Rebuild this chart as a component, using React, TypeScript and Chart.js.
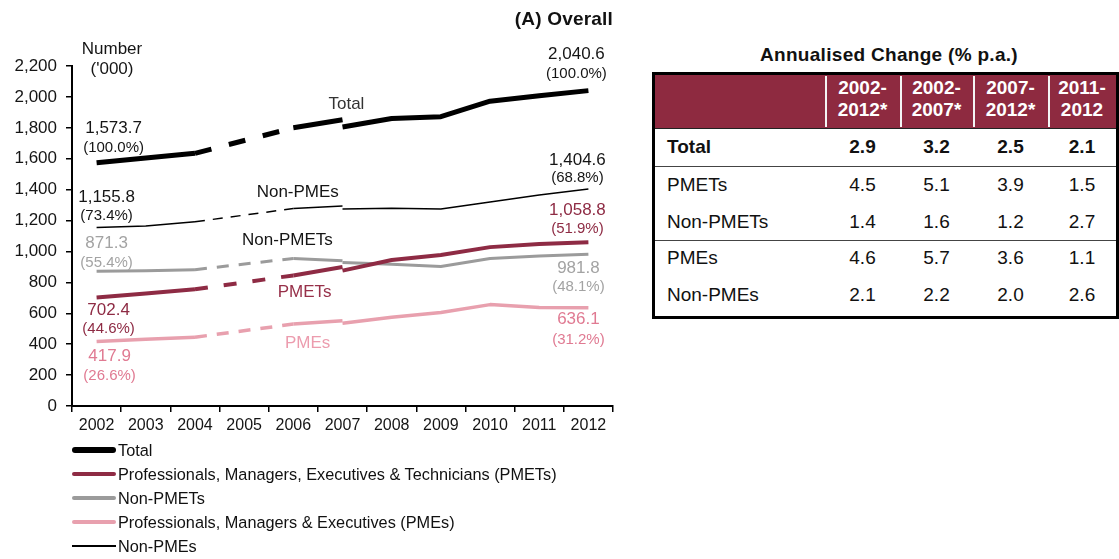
import React, { useEffect, useRef } from 'react';
import { Chart, registerables } from 'chart.js';

Chart.register(...registerables);

const FONT = '"Liberation Sans", Arial, Helvetica, sans-serif';

// ---- Data ----
const years = ['2002', '2003', '2004', '2005', '2006', '2007', '2008', '2009', '2010', '2011', '2012'];

// Old classification series (2002-2007); 2005 not available (dashed span)
const totalOld = [1573.7, 1605, 1635, null, 1800, 1852, null, null, null, null, null];
const totalNew = [null, null, null, null, null, 1805, 1860, 1872, 1972, 2008, 2040.6];

const pmetsOld = [702.4, 728, 755, null, 845, 900, null, null, null, null, null];
const pmetsNew = [null, null, null, null, null, 876, 945, 977, 1028, 1048, 1058.8];

const nonPmetsOld = [871.3, 875, 882, null, 955, 940, null, null, null, null, null];
const nonPmetsNew = [null, null, null, null, null, 928, 917, 902, 955, 970, 981.8];

const pmesOld = [417.9, 432, 445, null, 530, 552, null, null, null, null, null];
const pmesNew = [null, null, null, null, null, 535, 574, 605, 656, 638, 636.1];

const nonPmesOld = [1155.8, 1165, 1192, null, 1278, 1294, null, null, null, null, null];
const nonPmesNew = [null, null, null, null, null, 1275, 1280, 1275, 1320, 1365, 1404.6];

const yTicksMax = 2200;
const yTickStep = 200;

// Table data
const tablePeriods = [['2002-', '2012*'], ['2002-', '2007*'], ['2007-', '2012*'], ['2011-', '2012']];
const tableRows = ['Total', 'PMETs', 'Non-PMETs', 'PMEs', 'Non-PMEs'];
const change2002to2012 = [2.9, 4.5, 1.4, 4.6, 2.1];
const change2002to2007 = [3.2, 5.1, 1.6, 5.7, 2.2];
const change2007to2012 = [2.5, 3.9, 1.2, 3.6, 2.0];
const change2011to2012 = [2.1, 1.5, 2.7, 1.1, 2.6];
const tableColumns = [change2002to2012, change2002to2007, change2007to2012, change2011to2012];

// ---- Series styling / annotation placement ----
type Series = {
  name: string;
  legend: string;
  color: string;
  textColor: string;
  tagColor: string;
  width: number;
  dash: number[];
  oldValues: (number | null)[];
  newValues: (number | null)[];
  tag: { x: number; y: number };
  start: { dx: number; dy1: number; dy2: number };
  end: { dx: number; dy1: number; dy2: number };
};

const series: Series[] = [
  {
    name: 'Total', legend: 'Total', color: '#000000', textColor: '#151515', tagColor: '#333333',
    width: 5, dash: [17, 18], oldValues: totalOld, newValues: totalNew,
    tag: { x: 5.08, y: 1950 }, start: { dx: 17, dy1: -34, dy2: -15 }, end: { dx: -12, dy1: -36, dy2: -17 },
  },
  {
    name: 'PMETs', legend: 'Professionals, Managers, Executives & Technicians (PMETs)', color: '#8E2B44',
    textColor: '#8E2B44', tagColor: '#973049',
    width: 4, dash: [13, 16], oldValues: pmetsOld, newValues: pmetsNew,
    tag: { x: 4.23, y: 738 }, start: { dx: 12, dy1: 13, dy2: 31 }, end: { dx: -11, dy1: -32, dy2: -14 },
  },
  {
    name: 'Non-PMETs', legend: 'Non-PMETs', color: '#9B9B9B', textColor: '#A3A3A3', tagColor: '#151515',
    width: 3, dash: [12, 10], oldValues: nonPmetsOld, newValues: nonPmetsNew,
    tag: { x: 3.88, y: 1075 }, start: { dx: 10, dy1: -28, dy2: -8 }, end: { dx: -10, dy1: 14, dy2: 33 },
  },
  {
    name: 'PMEs', legend: 'Professionals, Managers & Executives (PMEs)', color: '#E8A0AE',
    textColor: '#E07A92', tagColor: '#EC9CAE',
    width: 3.5, dash: [12, 10], oldValues: pmesOld, newValues: pmesNew,
    tag: { x: 4.29, y: 408 }, start: { dx: 13, dy1: 15, dy2: 34 }, end: { dx: -10, dy1: 12, dy2: 32 },
  },
  {
    name: 'Non-PMEs', legend: 'Non-PMEs', color: '#000000', textColor: '#151515', tagColor: '#151515',
    width: 1.5, dash: [10, 8], oldValues: nonPmesOld, newValues: nonPmesNew,
    tag: { x: 4.09, y: 1380 }, start: { dx: 10, dy1: -30, dy2: -12 }, end: { dx: -11, dy1: -29, dy2: -11 },
  },
];

const fmtValue = (v: number) =>
  v.toLocaleString('en-US', { minimumFractionDigits: 1, maximumFractionDigits: 1 });

const firstOf = (arr: (number | null)[]) => arr.find((v) => v !== null) as number;
const lastOf = (arr: (number | null)[]) => {
  for (let i = arr.length - 1; i >= 0; i--) if (arr[i] !== null) return { v: arr[i] as number, i };
  return { v: 0, i: 0 };
};

const App = () => {
  const ref = useRef<HTMLCanvasElement>(null);

  useEffect(() => {
    const canvas = ref.current!;
    const datasets: any[] = [];
    series.forEach((s) => {
      [s.oldValues, s.newValues].forEach((vals, k) => {
        datasets.push({
          label: k ? s.name + ' (revised)' : s.name,
          data: vals,
          borderColor: s.color,
          backgroundColor: s.color,
          borderWidth: s.width,
          pointRadius: 0,
          pointHoverRadius: 0,
          tension: 0,
          spanGaps: true,
          borderJoinStyle: 'round',
          borderCapStyle: 'butt',
          segment: {
            // a segment that spans a missing year (no data) is drawn dashed
            borderDash: (ctx: any) =>
              vals[ctx.p0DataIndex] === null || vals[ctx.p1DataIndex] === null ? s.dash : undefined,
          },
        });
      });
    });

    const totalStart = firstOf(totalOld);
    const totalEnd = lastOf(totalNew).v;

    const labelPlugin = {
      id: 'seriesLabels',
      afterDatasetsDraw(chart: any) {
        const { ctx, chartArea } = chart;
        const xs = chart.scales.x;
        const ys = chart.scales.y;
        ctx.save();
        ctx.textAlign = 'center';
        ctx.textBaseline = 'middle';

        // unit label
        ctx.fillStyle = '#151515';
        ctx.font = `17px ${FONT}`;
        ctx.fillText('Number', chartArea.left + 40, chartArea.top - 17);
        ctx.fillText("('000)", chartArea.left + 40, chartArea.top + 3);

        series.forEach((s) => {
          const v0 = firstOf(s.oldValues);
          const last = lastOf(s.newValues);
          const x0 = xs.getPixelForValue(0);
          const y0 = ys.getPixelForValue(v0);
          const x1 = xs.getPixelForValue(last.i);
          const y1 = ys.getPixelForValue(last.v);
          ctx.fillStyle = s.textColor;
          ctx.font = `17px ${FONT}`;
          ctx.fillText(fmtValue(v0), x0 + s.start.dx, y0 + s.start.dy1);
          ctx.fillText(fmtValue(last.v), x1 + s.end.dx, y1 + s.end.dy1);
          ctx.font = `15px ${FONT}`;
          ctx.fillText(`(${((v0 / totalStart) * 100).toFixed(1)}%)`, x0 + s.start.dx, y0 + s.start.dy2);
          ctx.fillText(`(${((last.v / totalEnd) * 100).toFixed(1)}%)`, x1 + s.end.dx, y1 + s.end.dy2);

          ctx.fillStyle = s.tagColor;
          ctx.font = `17px ${FONT}`;
          ctx.fillText(s.name, xs.getPixelForValue(s.tag.x), ys.getPixelForValue(s.tag.y));
        });
        ctx.restore();
      },
    };

    const chart = new Chart(canvas, {
      type: 'line',
      data: { labels: years, datasets },
      options: {
        animation: false,
        responsive: false,
        devicePixelRatio: 1,
        events: [],
        layout: { padding: { left: 0, right: 27, top: 66, bottom: 0 } },
        plugins: {
          legend: { display: false },
          tooltip: { enabled: false },
          title: { display: false },
        },
        scales: {
          x: {
            type: 'category',
            offset: true,
            grid: {
              offset: true,
              drawOnChartArea: false,
              drawTicks: true,
              tickLength: 6,
              color: '#000',
              lineWidth: 1.5,
            },
            border: { display: true, color: '#000', width: 2 },
            ticks: {
              color: '#151515',
              font: { family: FONT, size: 16 },
              padding: 4,
              autoSkip: false,
              maxRotation: 0,
            },
            afterFit: (s: any) => {
              s.height = 34;
            },
          },
          y: {
            type: 'linear',
            min: 0,
            max: yTicksMax,
            grid: {
              drawOnChartArea: false,
              drawTicks: true,
              tickLength: 6,
              color: '#000',
              lineWidth: 1.5,
            },
            border: { display: true, color: '#000', width: 2 },
            ticks: {
              stepSize: yTickStep,
              color: '#151515',
              font: { family: FONT, size: 17 },
              padding: 9,
              callback: (v: any) => Number(v).toLocaleString('en-US'),
            },
            afterFit: (s: any) => {
              s.width = 72;
            },
          },
        },
      },
      plugins: [labelPlugin],
    } as any);
    return () => chart.destroy();
  }, []);

  const colBounds = [170, 245, 318, 393, 461];
  const rowCenters = [72, 110, 147, 183, 220];

  return (
    <div
      style={{
        position: 'fixed',
        left: 0,
        top: 0,
        width: 1119,
        height: 559,
        background: '#fff',
        fontFamily: FONT,
        color: '#111',
        overflow: 'hidden',
      }}
    >
      <canvas ref={ref} width={640} height={440} style={{ position: 'absolute', left: 0, top: 0, width: 640, height: 440 }} />

      {/* Chart title */}
      <div
        style={{
          position: 'absolute',
          left: 0,
          width: 613,
          top: 8,
          textAlign: 'right',
          fontWeight: 'bold',
          fontSize: 19,
          lineHeight: '22px',
          letterSpacing: 0.2,
        }}
      >
        (A) Overall
      </div>

      {/* Legend */}
      <div style={{ position: 'absolute', left: 72, top: 438 }}>
        {series.map((s) => (
          <div key={s.name} style={{ height: 24, display: 'flex', alignItems: 'center' }}>
            <div
              style={{
                width: 44,
                height: s.width < 2 ? 1.5 : s.width + 0.5,
                background: s.color,
                borderRadius: s.width < 2 ? 0 : 3,
              }}
            />
            <span style={{ marginLeft: 2, fontSize: 16.3, lineHeight: '20px', color: '#111', whiteSpace: 'nowrap' }}>
              {s.legend}
            </span>
          </div>
        ))}
      </div>

      {/* Table title */}
      <div
        style={{
          position: 'absolute',
          left: 889,
          top: 44,
          transform: 'translateX(-50%)',
          fontWeight: 'bold',
          fontSize: 19,
          lineHeight: '22px',
          whiteSpace: 'nowrap',
          letterSpacing: 0.3,
        }}
      >
        Annualised Change (% p.a.)
      </div>

      {/* Table */}
      <div
        style={{
          position: 'absolute',
          left: 652,
          top: 72,
          width: 467,
          height: 247,
          border: '3px solid #000',
          boxSizing: 'border-box',
          fontSize: 19,
        }}
      >
        <div
          style={{
            position: 'absolute',
            left: 0,
            top: 0,
            width: '100%',
            height: 53,
            background: '#8E2A40',
            borderBottom: '1px solid #222',
          }}
        />
        {colBounds.slice(0, 4).map((b, i) => (
          <React.Fragment key={'h' + i}>
            <div style={{ position: 'absolute', left: b, top: 1, width: 1.5, height: 51, background: '#f4f4f4' }} />
            <div
              style={{
                position: 'absolute',
                left: b,
                width: colBounds[i + 1] - b,
                top: 2,
                textAlign: 'center',
                color: '#fff',
                fontWeight: 'bold',
                lineHeight: '22px',
              }}
            >
              {tablePeriods[i][0]}
              <br />
              {tablePeriods[i][1]}
            </div>
          </React.Fragment>
        ))}
        <div style={{ position: 'absolute', left: 0, top: 91, width: '100%', height: 1, background: '#444' }} />
        <div style={{ position: 'absolute', left: 0, top: 165, width: '100%', height: 1, background: '#444' }} />
        {tableRows.map((r, ri) => (
          <React.Fragment key={r}>
            <div
              style={{
                position: 'absolute',
                left: 12,
                top: rowCenters[ri] - 11,
                lineHeight: '22px',
                fontWeight: ri === 0 ? 'bold' : 'normal',
                whiteSpace: 'nowrap',
              }}
            >
              {r}
            </div>
            {tableColumns.map((col, ci) => (
              <div
                key={ci}
                style={{
                  position: 'absolute',
                  left: colBounds[ci],
                  width: colBounds[ci + 1] - colBounds[ci],
                  top: rowCenters[ri] - 11,
                  lineHeight: '22px',
                  textAlign: 'center',
                  fontWeight: ri === 0 ? 'bold' : 'normal',
                }}
              >
                {col[ri].toFixed(1)}
              </div>
            ))}
          </React.Fragment>
        ))}
      </div>
    </div>
  );
};

export default App;
